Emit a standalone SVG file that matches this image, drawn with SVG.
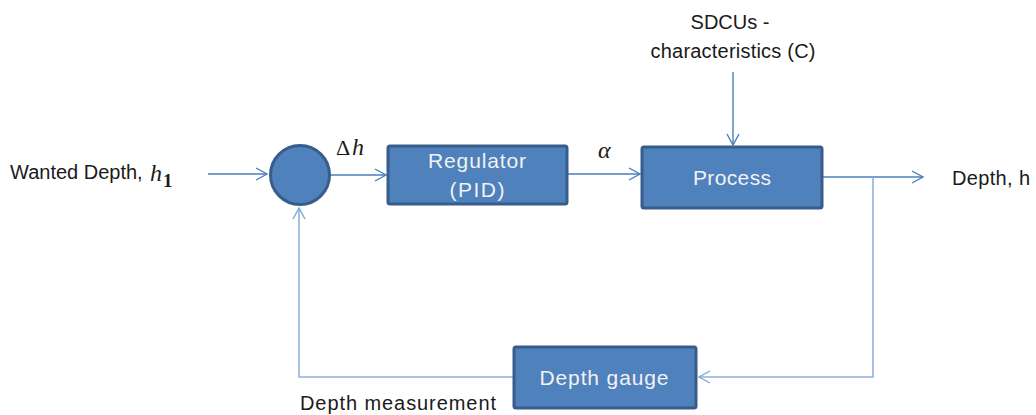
<svg xmlns="http://www.w3.org/2000/svg" width="1036" height="415" viewBox="0 0 1036 415">
<defs>
<marker id="arr" markerWidth="14" markerHeight="14" refX="12" refY="7" orient="auto" markerUnits="userSpaceOnUse">
<path d="M1,1 L12,7 L1,13" fill="none" stroke="#4A7EBB" stroke-width="1.4"/>
</marker>
<marker id="arrL" markerWidth="14" markerHeight="14" refX="12" refY="7" orient="auto" markerUnits="userSpaceOnUse">
<path d="M1,1 L12,7 L1,13" fill="none" stroke="#7FA6D6" stroke-width="1.4"/>
</marker>
<style>
.box{fill:#4F81BD;stroke:#385D8A;stroke-width:3}
.conn{fill:none;stroke:#4A7EBB;stroke-width:1.4}
.fb{fill:none;stroke:#8EB1DD;stroke-width:1.6}
.lbl{font-family:"Liberation Sans",Arial,sans-serif;font-size:20px;fill:#1a1a1a}
.in{font-family:"Liberation Sans",Arial,sans-serif;font-size:21px;fill:#F2F2F2;text-anchor:middle}
.math{font-family:"Liberation Serif","DejaVu Serif",serif;font-style:italic;font-size:24px;fill:#1a1a1a}
.up{font-family:"Liberation Serif","DejaVu Serif",serif;font-style:normal;fill:#1a1a1a}
</style>
</defs>
<rect width="1036" height="415" fill="#ffffff"/>
<g id="connectors">
<line class="conn" x1="208" y1="174" x2="267" y2="174" marker-end="url(#arr)"/>
<line class="conn" x1="331" y1="175" x2="386" y2="175" marker-end="url(#arr)"/>
<line class="conn" x1="568" y1="174" x2="640" y2="174" marker-end="url(#arr)"/>
<line class="conn" x1="733" y1="72" x2="733" y2="145" marker-end="url(#arr)"/>
<line class="conn" x1="823" y1="177" x2="923" y2="177" marker-end="url(#arr)"/>
<polyline class="fb" points="873,177 873,377 699,377" marker-end="url(#arrL)"/>
<polyline class="fb" points="513,377 299,377 299,208" marker-end="url(#arrL)"/>
</g>
<g id="sum">
<circle class="box" cx="300" cy="175" r="29.5"/>
</g>
<g id="regulator">
<rect class="box" x="388" y="146" width="179" height="58" rx="2"/>
<text class="in" x="477" y="168" textLength="98">Regulator</text>
<text class="in" x="477" y="197" textLength="55">(PID)</text>
</g>
<g id="process">
<rect class="box" x="642" y="147" width="180" height="61" rx="2"/>
<text class="in" x="732" y="185" textLength="78">Process</text>
</g>
<g id="depth-gauge">
<rect class="box" x="514" y="347" width="182" height="61" rx="2"/>
<text class="in" x="604" y="385" textLength="129">Depth gauge</text>
</g>
<g id="labels">
<text class="lbl" x="10" y="179">Wanted Depth,</text>
<text class="math" x="150" y="181">h</text>
<text class="up" x="163" y="187" font-size="19" font-weight="bold">1</text>
<text class="up" x="336" y="155" font-size="22">Δ</text>
<text class="math" x="352" y="155">h</text>
<text class="math" x="598" y="158">α</text>
<text class="lbl" x="730" y="29" text-anchor="middle">SDCUs -</text>
<text class="lbl" x="733" y="58" text-anchor="middle" textLength="165">characteristics (C)</text>
<text class="lbl" x="952" y="185" textLength="78">Depth, h</text>
<text class="lbl" x="300" y="410" textLength="196">Depth measurement</text>
</g>
</svg>
